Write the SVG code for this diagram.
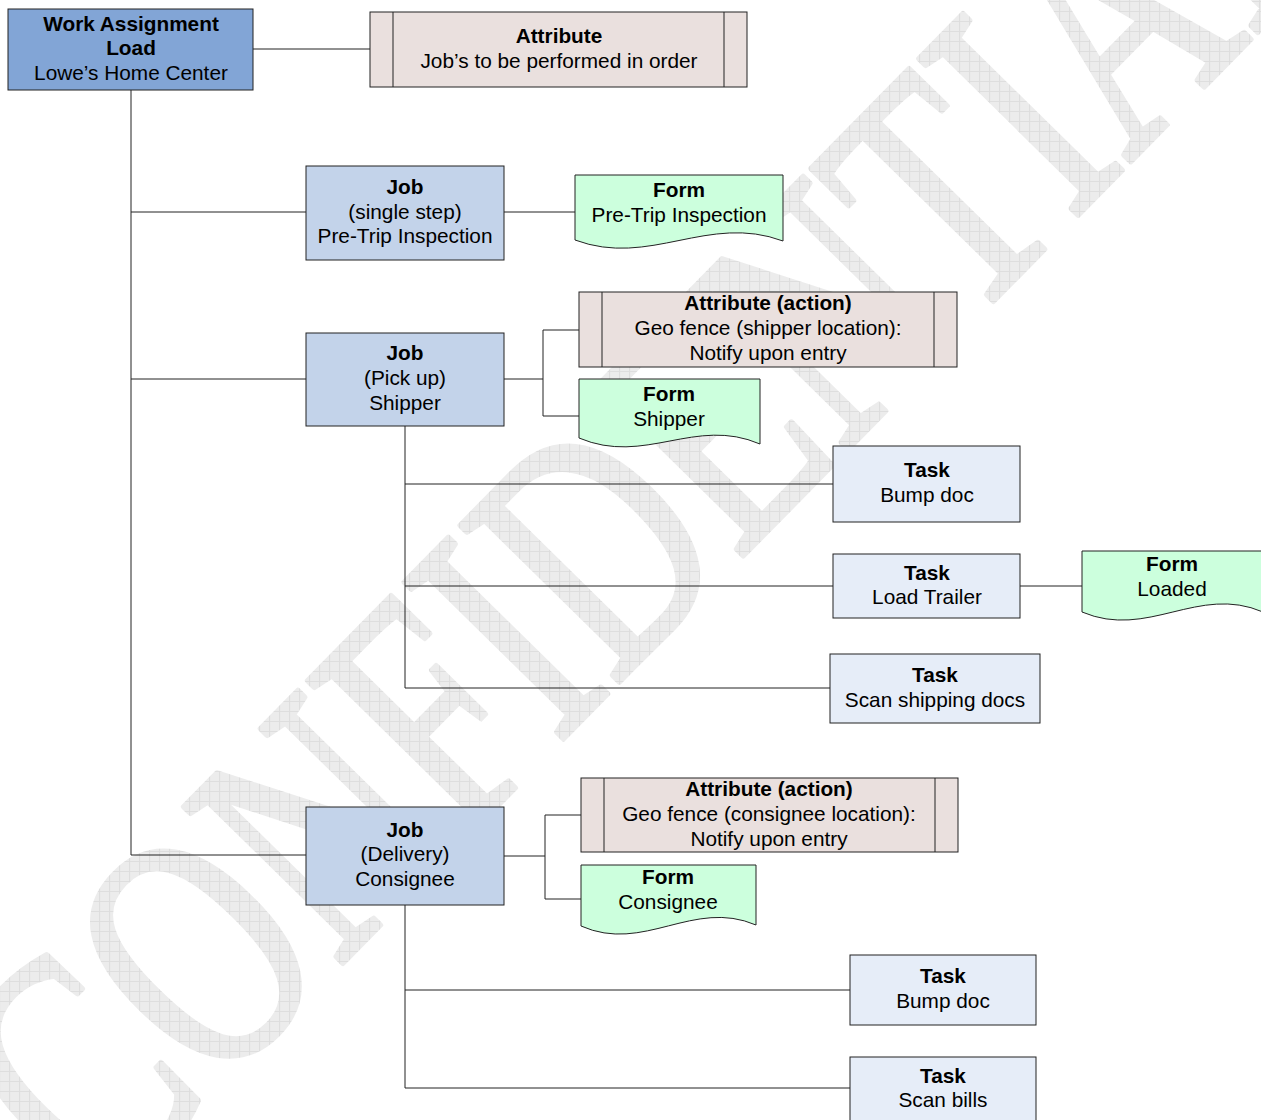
<svg xmlns="http://www.w3.org/2000/svg" width="1261" height="1120" viewBox="0 0 1261 1120">
<defs>
<pattern id="hatch" patternUnits="userSpaceOnUse" width="10" height="10" patternTransform="scale(1.3889,1) rotate(45.5)">
<rect width="10" height="10" fill="#ececec"/>
<path d="M0,0.5 H10 M0.5,0 V10" stroke="#dddddd" stroke-width="1"/>
</pattern>
<style>
.t{font-family:"Liberation Sans",Arial,sans-serif;font-size:20.8px;fill:#000;text-anchor:middle}
.b{font-weight:bold}
.box{stroke:#222;stroke-width:1}
.root{fill:#82a5d6}
.job{fill:#c3d3ea}
.task{fill:#e6edf8}
.attr{fill:#eae0de}
.form{fill:#ccffdd}
.conn{fill:none;stroke:#222;stroke-width:1}
</style>
</defs>
<rect width="1261" height="1120" fill="#fff"/>
<g id="watermark">
<text transform="translate(99,1211) rotate(-45.5) scale(0.72,1)" font-family="'Liberation Serif','Times New Roman',serif" font-size="340" fill="url(#hatch)" stroke="url(#hatch)" stroke-width="6" stroke-linejoin="round">CONFIDENTIAL</text>
</g>
<g id="connectors">
<path class="conn" d="M253,49 H370"/>
<path class="conn" d="M131,90 V855 H306 M131,212 H306 M131,379 H306"/>
<path class="conn" d="M504,212 H575"/>
<path class="conn" d="M504,379 H543 M543,330 V416 M543,330 H579 M543,416 H579"/>
<path class="conn" d="M405,426 V688 H830 M405,484 H833 M405,586 H833"/>
<path class="conn" d="M1020,586 H1082"/>
<path class="conn" d="M504,856 H545 M545,815 V899 M545,815 H581 M545,899 H581"/>
<path class="conn" d="M405,905 V1088 H850 M405,990 H850"/>
</g>
<g id="root">
<rect class="box root" x="8" y="9" width="245" height="81"/>
<text class="t b" x="131" y="31">Work Assignment</text>
<text class="t b" x="131" y="55">Load</text>
<text class="t" x="131" y="80">Lowe’s Home Center</text>
</g>
<g id="attr1">
<rect class="box attr" x="370" y="12" width="377" height="75"/>
<path class="box" d="M393,12 V87 M724,12 V87"/>
<text class="t b" x="559" y="43">Attribute</text>
<text class="t" x="559" y="68">Job’s to be performed in order</text>
</g>
<g id="job1">
<rect class="box job" x="306" y="166" width="198" height="94"/>
<text class="t b" x="405" y="194">Job</text>
<text class="t" x="405" y="219">(single step)</text>
<text class="t" x="405" y="243">Pre-Trip Inspection</text>
</g>
<g id="form1">
<path class="box form" d="M575,175 H783 V241 C708,213 650,268 575,240 Z"/>
<text class="t b" x="679" y="197">Form</text>
<text class="t" x="679" y="222">Pre-Trip Inspection</text>
</g>
<g id="job2">
<rect class="box job" x="306" y="333" width="198" height="93"/>
<text class="t b" x="405" y="360">Job</text>
<text class="t" x="405" y="385">(Pick up)</text>
<text class="t" x="405" y="410">Shipper</text>
</g>
<g id="attr2">
<rect class="box attr" x="579" y="292" width="378" height="75"/>
<path class="box" d="M602,292 V367 M934,292 V367"/>
<text class="t b" x="768" y="310">Attribute (action)</text>
<text class="t" x="768" y="335">Geo fence (shipper location):</text>
<text class="t" x="768" y="360">Notify upon entry</text>
</g>
<g id="form2">
<path class="box form" d="M579,379 H760 V444 C695,416 645,466 579,438 Z"/>
<text class="t b" x="669" y="401">Form</text>
<text class="t" x="669" y="426">Shipper</text>
</g>
<g id="task1">
<rect class="box task" x="833" y="446" width="187" height="76"/>
<text class="t b" x="927" y="477">Task</text>
<text class="t" x="927" y="502">Bump doc</text>
</g>
<g id="task2">
<rect class="box task" x="833" y="554" width="187" height="64"/>
<text class="t b" x="927" y="580">Task</text>
<text class="t" x="927" y="604">Load Trailer</text>
</g>
<g id="form3">
<path class="box form" d="M1082,551 H1263 V612 C1198,584 1148,640 1082,612 Z"/>
<text class="t b" x="1172" y="571">Form</text>
<text class="t" x="1172" y="596">Loaded</text>
</g>
<g id="task3">
<rect class="box task" x="830" y="654" width="210" height="69"/>
<text class="t b" x="935" y="682">Task</text>
<text class="t" x="935" y="707">Scan shipping docs</text>
</g>
<g id="job3">
<rect class="box job" x="306" y="807" width="198" height="98"/>
<text class="t b" x="405" y="837">Job</text>
<text class="t" x="405" y="861">(Delivery)</text>
<text class="t" x="405" y="886">Consignee</text>
</g>
<g id="attr3">
<rect class="box attr" x="581" y="778" width="377" height="74"/>
<path class="box" d="M604,778 V852 M935,778 V852"/>
<text class="t b" x="769" y="796">Attribute (action)</text>
<text class="t" x="769" y="821">Geo fence (consignee location):</text>
<text class="t" x="769" y="846">Notify upon entry</text>
</g>
<g id="form4">
<path class="box form" d="M581,865 H756 V925 C693,898 644,954 581,926 Z"/>
<text class="t b" x="668" y="884">Form</text>
<text class="t" x="668" y="909">Consignee</text>
</g>
<g id="task4">
<rect class="box task" x="850" y="955" width="186" height="70"/>
<text class="t b" x="943" y="983">Task</text>
<text class="t" x="943" y="1008">Bump doc</text>
</g>
<g id="task5">
<rect class="box task" x="850" y="1057" width="186" height="75"/>
<text class="t b" x="943" y="1083">Task</text>
<text class="t" x="943" y="1107">Scan bills</text>
</g>
</svg>
